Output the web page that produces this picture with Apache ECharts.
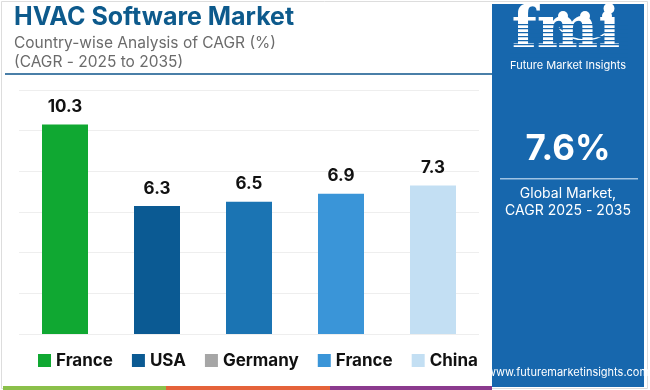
<!DOCTYPE html>
<html>
<head>
<meta charset="utf-8">
<script src="https://cdn.jsdelivr.net/npm/echarts@6/dist/echarts.min.js"></script>
<style>
html,body{margin:0;padding:0;background:#fff;}
#c{width:650px;height:390px;}
</style>
</head>
<body>
<div id="c"></div>
<script>
const categories = ['France', 'USA', 'Germany', 'France ', 'China'];
const values = [10.3, 6.3, 6.5, 6.9, 7.3];
const barColors = ['#10a832', '#0b5a93', '#1b74b3', '#3a95d8', '#c3dff3'];
const legendColors = ['#10a832', '#0b5a93', '#a6a6a6', '#3a95d8', '#c3dff3'];
const yTicks = [0, 2, 4, 6, 8, 10, 12];
const globalCagr = '7.6%';

const chart = echarts.init(document.getElementById('c'), null, {renderer: 'canvas'});
const FONT = 'Inter, Roboto, sans-serif';

const series = categories.map((name, i) => ({
  name: name,
  type: 'bar',
  stack: 'one',
  barWidth: 46,
  itemStyle: {color: barColors[i]},
  label: {
    show: true, position: 'top', distance: 9,
    color: '#111', fontWeight: 'bold', fontSize: 17, fontFamily: FONT,
    formatter: p => p.value.toFixed(1)
  },
  data: categories.map((c, j) => j === i ? values[i] : '-')
}));

const panelX = 492, panelW = 152, cx = panelX + panelW / 2;
const graphic = [
  {type: 'rect', shape: {x: 1.5, y: 1.5, width: 646, height: 387}, style: {fill: 'none', stroke: '#dddddd', lineWidth: 1}, z: -10},
  {type: 'text', left: 14, top: 5, style: {text: 'HVAC Software Market', fill: '#0d5a8c', font: 'bold 25px ' + FONT}},
  {type: 'text', left: 14, top: 35, style: {text: 'Country-wise Analysis of CAGR (%)', fill: '#6b6b6b', font: '15.5px ' + FONT}},
  {type: 'text', left: 14, top: 54, style: {text: '(CAGR - 2025 to 2035)', fill: '#6b6b6b', font: '15.5px ' + FONT}},
  {type: 'rect', shape: {x: 5, y: 73, width: 487, height: 2}, style: {fill: '#4a7fa8'}},
  {type: 'rect', shape: {x: panelX, y: 4, width: panelW, height: 383}, style: {fill: '#1767ad'}},
  {type: 'text', style: {text: 'fmi', x: cx - 2, y: 3, textAlign: 'center', fill: '#fff', font: 'bold 58px "DejaVu Serif", serif'}, z: 100},
  {type: 'circle', shape: {cx: 563, cy: 16, r: 5}, style: {fill: '#fff'}, z: 100},
  {type: 'circle', shape: {cx: 585, cy: 16, r: 5}, style: {fill: '#fff'}, z: 100},
  {type: 'circle', shape: {cx: 607, cy: 16, r: 5}, style: {fill: '#fff'}, z: 100},
  {type: 'arc', shape: {cx: 585, cy: 6, r: 34, startAngle: Math.PI * 0.22, endAngle: Math.PI * 0.78}, style: {stroke: '#fff', lineWidth: 1.5, fill: 'none'}, z: 100},
  {type: 'text', style: {text: 'Future Market Insights', x: cx, y: 60, textAlign: 'center', fill: '#fff', font: '11px ' + FONT}, z: 100},
  {type: 'text', style: {text: globalCagr, x: cx, y: 132, textAlign: 'center', fill: '#fff', font: 'bold 35px ' + FONT}},
  {type: 'rect', shape: {x: 500, y: 178, width: 138, height: 1.5}, style: {fill: '#9fc3e3'}},
  {type: 'text', style: {text: 'Global Market,', x: cx, y: 187, textAlign: 'center', fill: '#fff', font: '14px ' + FONT}},
  {type: 'text', style: {text: 'CAGR 2025 - 2035', x: cx, y: 204, textAlign: 'center', fill: '#fff', font: '14px ' + FONT}},
  {type: 'text', style: {text: 'www.futuremarketinsights.com', x: cx, y: 367, textAlign: 'center', fill: '#fff', font: '11px ' + FONT}},
  {type: 'rect', shape: {x: 3, y: 386, width: 163, height: 4}, style: {fill: '#8bc04a'}},
  {type: 'rect', shape: {x: 166, y: 386, width: 164, height: 4}, style: {fill: '#e5633a'}},
  {type: 'rect', shape: {x: 330, y: 386, width: 162, height: 4}, style: {fill: '#8b3a8e'}}
];
for (let k = 0; k < 9; k++) {
  graphic.push({type: 'rect', shape: {x: 510, y: 24 + k * 4, width: 118, height: 1.2}, style: {fill: '#1767ad'}, z: 150});
}

chart.setOption({
  animation: false,
  backgroundColor: '#fff',
  grid: {left: 19, right: 171, top: 90, bottom: 56},
  xAxis: {
    type: 'category', data: categories,
    axisLine: {show: false}, axisTick: {show: false}, axisLabel: {show: false}
  },
  yAxis: {
    type: 'value', min: yTicks[0], max: yTicks[yTicks.length - 1], interval: 2,
    axisLabel: {show: false}, axisLine: {show: false}, axisTick: {show: false},
    splitLine: {lineStyle: {color: '#eeeeee', width: 1}}
  },
  legend: {
    left: 33, top: 347, itemWidth: 13, itemHeight: 13, itemGap: 19,
    icon: 'rect',
    data: categories.map((c, i) => ({name: c, itemStyle: {color: legendColors[i]}})),
    formatter: n => n.trim(),
    textStyle: {fontFamily: FONT, fontWeight: 'bold', fontSize: 17, color: '#111'},
    selectedMode: false
  },
  graphic: graphic,
  series: series
});
</script>
</body>
</html>
